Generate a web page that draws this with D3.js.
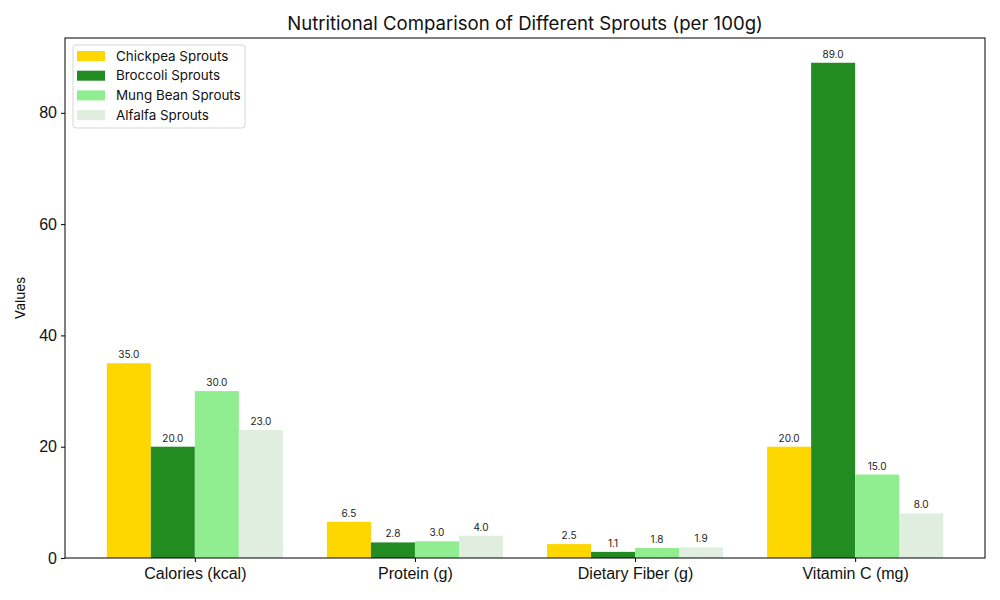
<!DOCTYPE html>
<html>
<head>
<meta charset="utf-8">
<script src="https://cdn.jsdelivr.net/npm/d3@7"></script>
<style>
  body { margin: 0; background: #fff; }
  svg { font-family: Inter, "Open Sans", sans-serif; }
</style>
</head>
<body>
<svg id="chart"></svg>
<script>
const categories = ["Calories (kcal)", "Protein (g)", "Dietary Fiber (g)", "Vitamin C (mg)"];
const seriesNames = ["Chickpea Sprouts", "Broccoli Sprouts", "Mung Bean Sprouts", "Alfalfa Sprouts"];
const seriesColors = ["#FFD700", "#228B22", "#90EE90", "#DFEEDF"];
const chickpea = [35.0, 6.5, 2.5, 20.0];
const broccoli = [20.0, 2.8, 1.1, 89.0];
const mungBean = [30.0, 3.0, 1.8, 15.0];
const alfalfa = [23.0, 4.0, 1.9, 8.0];
const yTicks = [0, 20, 40, 60, 80];

const seriesValues = [chickpea, broccoli, mungBean, alfalfa];

const dimensions = {
  width: 1000,
  height: 600,
  margin: { top: 38, right: 15, bottom: 42, left: 65 }
};
const width = dimensions.width - dimensions.margin.left - dimensions.margin.right;
const height = dimensions.height - dimensions.margin.top - dimensions.margin.bottom;

const svg = d3.select("#chart")
  .attr("width", dimensions.width)
  .attr("height", dimensions.height);

const g = svg.append("g")
  .attr("transform", `translate(${dimensions.margin.left},${dimensions.margin.top})`);

// matplotlib style: bars at i + (k-1.5)*0.2, width 0.2, 5% margins
const barW = 0.2;
const xScale = d3.scaleLinear()
  .domain([-0.4 - 0.19, 3.4 + 0.19])
  .range([0, width]);

const maxVal = d3.max(seriesValues.flat());
const yScale = d3.scaleLinear()
  .domain([0, maxVal * 1.05])
  .range([height, 0]);

seriesValues.forEach((vals, k) => {
  const off = (k - 1.5) * barW;
  const grp = g.append("g");
  grp.selectAll("rect")
    .data(vals)
    .join("rect")
    .attr("x", (d, i) => xScale(i + off - barW / 2))
    .attr("width", (d, i) => xScale(i + off + barW / 2) - xScale(i + off - barW / 2))
    .attr("y", d => yScale(d))
    .attr("height", d => height - yScale(d))
    .attr("fill", seriesColors[k]);
  grp.selectAll("text")
    .data(vals)
    .join("text")
    .attr("x", (d, i) => xScale(i + off))
    .attr("y", d => yScale(d) - 5)
    .attr("text-anchor", "middle")
    .attr("font-size", 10)
    .attr("fill", "#222")
    .text(d => d.toFixed(1));
});

// axes
const xAxis = d3.axisBottom(xScale)
  .tickValues(d3.range(categories.length))
  .tickFormat(i => categories[i])
  .tickSize(4)
  .tickSizeOuter(0);
const xg = g.append("g")
  .attr("transform", `translate(0,${height})`)
  .call(xAxis);
xg.select(".domain").remove();
xg.selectAll("text").attr("font-size", 16).attr("fill", "#111").attr("dy", "0.9em");

const yAxis = d3.axisLeft(yScale)
  .tickValues(yTicks)
  .tickSize(4)
  .tickSizeOuter(0);
const yg = g.append("g").call(yAxis);
yg.select(".domain").remove();
yg.selectAll("text").attr("font-size", 16).attr("fill", "#111").attr("x", -8);

g.append("rect")
  .attr("width", width)
  .attr("height", height)
  .attr("fill", "none")
  .attr("stroke", "#000")
  .attr("stroke-width", 1);

// labels
svg.append("text")
  .attr("x", dimensions.margin.left + width / 2)
  .attr("y", 30)
  .attr("text-anchor", "middle")
  .attr("font-size", 18.6)
  .attr("fill", "#111")
  .text("Nutritional Comparison of Different Sprouts (per 100g)");

svg.append("text")
  .attr("transform", `translate(25,${dimensions.margin.top + height / 2}) rotate(-90)`)
  .attr("text-anchor", "middle")
  .attr("font-size", 13.5)
  .attr("fill", "#111")
  .text("Values");

// legend
const legend = g.append("g").attr("transform", "translate(8,7)");
legend.append("rect")
  .attr("width", 172)
  .attr("height", 83)
  .attr("rx", 3)
  .attr("fill", "#fff")
  .attr("fill-opacity", 0.8)
  .attr("stroke", "#d6d6d6");
seriesNames.forEach((name, k) => {
  const row = legend.append("g").attr("transform", `translate(0,${11 + k * 19.7})`);
  row.append("rect")
    .attr("x", 4)
    .attr("y", -5)
    .attr("width", 28)
    .attr("height", 10)
    .attr("fill", seriesColors[k]);
  row.append("text")
    .attr("x", 43)
    .attr("y", 0)
    .attr("dy", "0.35em")
    .attr("font-size", 13.4)
    .attr("fill", "#111")
    .text(name);
});
</script>
</body>
</html>
